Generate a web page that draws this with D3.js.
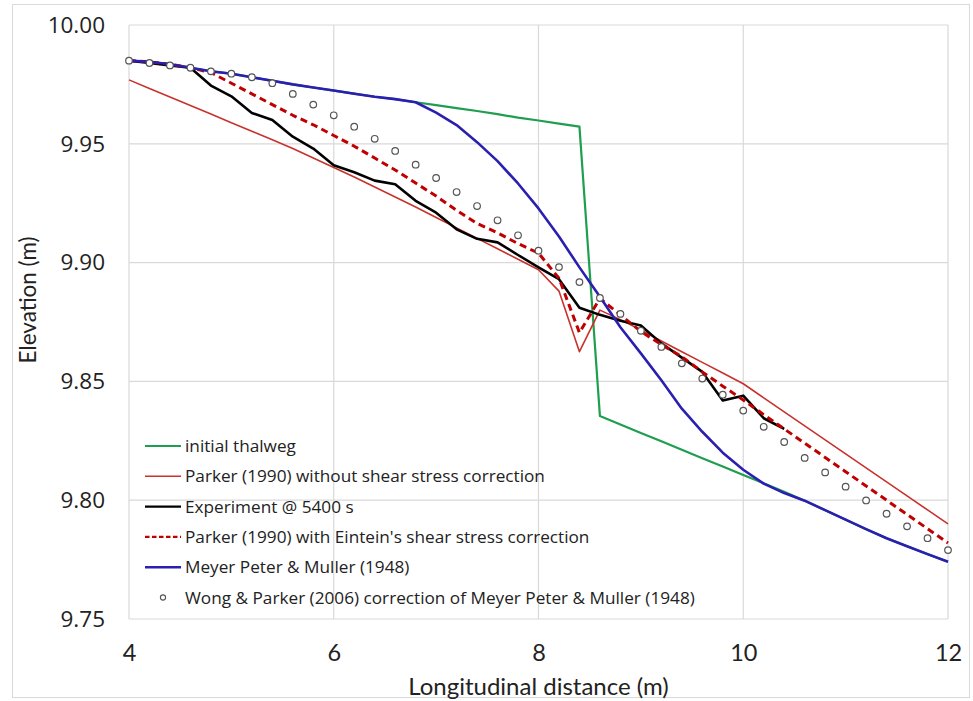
<!DOCTYPE html>
<html>
<head>
<meta charset="utf-8">
<script src="https://cdn.jsdelivr.net/npm/d3@7/dist/d3.min.js"></script>
<style>
  html, body { margin: 0; padding: 0; background: #fff; }
  svg { display: block; }
</style>
</head>
<body>
<svg id="chart" width="973" height="701"></svg>
<script>
// Longitudinal stations (m), every 0.2 m from 4 to 12
const distance = d3.range(41).map(i => +(4 + i * 0.2).toFixed(1));

// Bed elevation (m) at each station; null where a series has no value
const initialThalweg = [
  9.985, 9.9845, 9.9835, 9.982, 9.9805, 9.9795, 9.978, 9.9765, 9.975, 9.9737,
  9.9724, 9.9711, 9.9698, 9.9688, 9.9675, 9.9663, 9.965, 9.9638, 9.9625, 9.961,
  9.9598, 9.9585, 9.9572, 9.8354, 9.8319, 9.8283, 9.8248, 9.8212, 9.8177, 9.8142,
  9.8106, 9.8071, 9.8035, 9.7998, 9.7958, 9.7918, 9.7878, 9.7840, 9.7806, 9.7773,
  9.7741
];
const parkerNoCorr = [
  9.9769, 9.9733, 9.9697, 9.9661, 9.9625, 9.9589, 9.9553, 9.9517, 9.9480, 9.9440,
  9.9400, 9.9360, 9.9318, 9.9276, 9.9234, 9.9190, 9.9146, 9.9102, 9.9058, 9.9014,
  9.8970, 9.8880, 9.8625, 9.8800, 9.8760, 9.8716, 9.8670, 9.8625, 9.8580, 9.8535,
  9.8490, 9.8431, 9.8372, 9.8313, 9.8254, 9.8195, 9.8136, 9.8077, 9.8018, 9.7959,
  9.7900
];
const experiment = [
  9.985, 9.984, 9.983, 9.982, 9.9745, 9.970, 9.963, 9.960, 9.953, 9.948,
  9.941, 9.938, 9.9345, 9.933, 9.926, 9.921, 9.914, 9.910, 9.9085, 9.9032,
  9.898, 9.893, 9.881, 9.878, 9.8755, 9.8735, 9.866, 9.860, 9.854, 9.842,
  9.844, 9.8345, 9.830, null, null, null, null, null, null, null,
  null
];
const parkerEinstein = [
  9.985, 9.9845, 9.9835, 9.982, 9.980, 9.9755, 9.971, 9.9665, 9.962, 9.958,
  9.9535, 9.949, 9.944, 9.939, 9.9335, 9.928, 9.922, 9.9165, 9.9125, 9.908,
  9.904, 9.8934, 9.8705, 9.8849, 9.878, 9.871, 9.8655, 9.8604, 9.854, 9.848,
  9.8422, 9.836, 9.830, 9.824, 9.818, 9.812, 9.806, 9.800, 9.794, 9.788,
  9.782
];
const meyerPeterMuller = [
  9.985, 9.9845, 9.9835, 9.982, 9.9805, 9.9795, 9.978, 9.9765, 9.975, 9.9737,
  9.9724, 9.9711, 9.9698, 9.9688, 9.9675, 9.9631, 9.9579, 9.9507, 9.9427, 9.9333,
  9.9228, 9.911, 9.898, 9.8856, 9.8728, 9.8618, 9.8505, 9.8385, 9.8288, 9.820,
  9.8128, 9.807, 9.8030, 9.7998, 9.7958, 9.7918, 9.7878, 9.7840, 9.7806, 9.7773,
  9.7741
];
const wongParker = [
  9.985, 9.984, 9.983, 9.982, 9.9805, 9.9795, 9.978, 9.9755, 9.971, 9.9665,
  9.962, 9.9572, 9.9521, 9.947, 9.9412, 9.9356, 9.9297, 9.9238, 9.9178, 9.9115,
  9.905, 9.8981, 9.8918, 9.8851, 9.8784, 9.8713, 9.8645, 9.8576, 9.8512, 9.8444,
  9.8377, 9.8309, 9.8245, 9.8178, 9.8117, 9.8057, 9.7999, 9.7943, 9.789, 9.784,
  9.779
];

// Axis ticks
const xTicks = [4, 6, 8, 10, 12];
const yTicks = [9.75, 9.80, 9.85, 9.90, 9.95, 10.00];

const seriesNames = [
  "initial thalweg",
  "Parker (1990) without shear stress correction",
  "Experiment @ 5400 s",
  "Parker (1990) with Eintein's shear stress correction",
  "Meyer Peter & Muller (1948)",
  "Wong & Parker (2006) correction of Meyer Peter & Muller (1948)"
];

const svg = d3.select("#chart");
const W = 973, H = 701;
const plot = { left: 129, right: 948, top: 25, bottom: 619 };

const x = d3.scaleLinear().domain([4, 12]).range([plot.left, plot.right]);
const y = d3.scaleLinear().domain([9.75, 10.00]).range([plot.bottom, plot.top]);

// chart frame
svg.append("rect")
  .attr("x", 12.5).attr("y", 4.5).attr("width", W - 16).attr("height", H - 8)
  .attr("fill", "#fff").attr("stroke", "#d9d9d9").attr("stroke-width", 1);

// gridlines
const grid = svg.append("g").attr("stroke", "#d9d9d9").attr("stroke-width", 1.2);
grid.selectAll("line.h").data(yTicks).join("line")
  .attr("x1", plot.left).attr("x2", plot.right)
  .attr("y1", d => y(d)).attr("y2", d => y(d));
grid.selectAll("line.v").data(xTicks).join("line")
  .attr("y1", plot.top).attr("y2", plot.bottom)
  .attr("x1", d => x(d)).attr("x2", d => x(d));

// axes (labels only, lines provided by the grid)
const yAxis = d3.axisLeft(y).tickValues(yTicks).tickFormat(d3.format(".2f")).tickSize(0).tickPadding(24);
svg.append("g").attr("transform", `translate(${plot.left},0)`).call(yAxis)
  .call(g => g.select(".domain").remove())
  .selectAll("text")
  .attr("font-family", "'Open Sans', sans-serif").attr("font-size", 22.5).attr("fill", "#222");

const xAxis = d3.axisBottom(x).tickValues(xTicks).tickFormat(d3.format("d")).tickSize(0).tickPadding(25);
svg.append("g").attr("transform", `translate(0,${plot.bottom})`).call(xAxis)
  .call(g => g.select(".domain").remove())
  .selectAll("text")
  .attr("font-family", "Lato, sans-serif").attr("font-size", 23.5).attr("fill", "#222");

// axis titles
svg.append("text")
  .attr("x", (plot.left + plot.right) / 2).attr("y", 695)
  .attr("text-anchor", "middle")
  .attr("font-family", "Lato, sans-serif").attr("font-size", 24).attr("fill", "#222")
  .text("Longitudinal distance (m)");
svg.append("text")
  .attr("transform", "translate(36,300) rotate(-90)")
  .attr("text-anchor", "middle")
  .attr("font-family", "Lato, sans-serif").attr("font-size", 22.5).attr("fill", "#222")
  .text("Elevation (m)");

// series
const styles = [
  { data: initialThalweg, color: "#1f9e4f", width: 2.2, dash: null },
  { data: parkerNoCorr, color: "#c8322c", width: 1.6, dash: null },
  { data: experiment, color: "#000000", width: 2.6, dash: null },
  { data: parkerEinstein, color: "#c00000", width: 3, dash: "7,4.5" },
  { data: meyerPeterMuller, color: "#2a1fb0", width: 2.6, dash: null }
];

const line = d3.line()
  .defined(d => d[1] != null)
  .x(d => x(d[0])).y(d => y(d[1]));

const lines = svg.append("g").attr("fill", "none")
  .attr("stroke-linejoin", "round").attr("stroke-linecap", "butt");
styles.forEach(s => {
  lines.append("path")
    .attr("d", line(distance.map((d, i) => [d, s.data[i]])))
    .attr("stroke", s.color)
    .attr("stroke-width", s.width)
    .attr("stroke-dasharray", s.dash);
});

svg.append("g").selectAll("circle")
  .data(distance.map((d, i) => [d, wongParker[i]]))
  .join("circle")
  .attr("cx", d => x(d[0])).attr("cy", d => y(d[1]))
  .attr("r", 3.3)
  .attr("fill", "#fff").attr("stroke", "#555").attr("stroke-width", 1.2);

// legend
const legend = svg.append("g");
const lx0 = 145, lx1 = 181, ly0 = 446, ldy = 30.3;
seriesNames.forEach((name, i) => {
  const yy = ly0 + i * ldy;
  if (i < 5) {
    const s = styles[i];
    legend.append("line")
      .attr("x1", lx0).attr("x2", lx1).attr("y1", yy).attr("y2", yy)
      .attr("stroke", s.color)
      .attr("stroke-width", Math.min(s.width, 2.4))
      .attr("stroke-dasharray", s.dash ? "4.5,2.5" : null);
  } else {
    legend.append("circle")
      .attr("cx", (lx0 + lx1) / 2).attr("cy", yy).attr("r", 2.6)
      .attr("fill", "#fff").attr("stroke", "#555").attr("stroke-width", 1.1);
  }
  legend.append("text")
    .attr("x", 185).attr("y", yy).attr("dy", "0.35em")
    .attr("font-family", "'Open Sans', sans-serif").attr("font-size", 17.2).attr("fill", "#222")
    .text(name);
});
</script>
</body>
</html>
